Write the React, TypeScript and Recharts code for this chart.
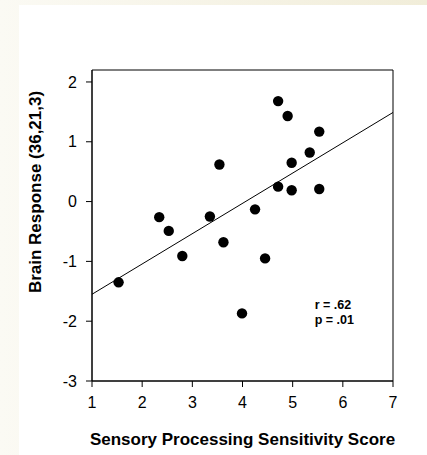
import React from 'react';
import {
  ScatterChart,
  Scatter,
  XAxis,
  YAxis,
  ReferenceLine,
  ReferenceArea,
  ReferenceDot,
} from 'recharts';

// Sensory Processing Sensitivity score (x) and brain response (y)
const spsScores = [1.53, 2.34, 2.53, 2.8, 3.35, 3.54, 3.62, 3.99, 4.25, 4.45, 4.71, 4.71, 4.9, 4.98, 4.98, 5.34, 5.53, 5.53];
const brainResponse = [-1.35, -0.26, -0.49, -0.91, -0.25, 0.62, -0.68, -1.87, -0.13, -0.95, 1.68, 0.25, 1.43, 0.65, 0.19, 0.82, 1.17, 0.21];

const xTicks = [1, 2, 3, 4, 5, 6, 7];
const yTicks = [-3, -2, -1, 0, 1, 2];
const xDomain = [1, 7];
const yDomain = [-3, 2.2];

// regression line end points
const fitLine = [
  { x: 1, y: -1.55 },
  { x: 7, y: 1.49 },
];

const statsText = ['r = .62', 'p = .01'];
const statsAnchor = { x: 5.44, y: -1.8 };

const xTitle = 'Sensory Processing Sensitivity Score';
const yTitle = 'Brain Response (36,21,3)';

const points = spsScores.map((x, i) => ({ x, y: brainResponse[i] }));

const FONT = '"Liberation Sans", Arial, Helvetica, sans-serif';

const Dot = (props: any) => <circle cx={props.cx} cy={props.cy} r={5.2} fill="#000" />;

export default function App() {
  return (
    <div
      style={{
        position: 'absolute',
        left: 0,
        top: 0,
        width: 427,
        height: 455,
        background: 'linear-gradient(to right, #fbfaf4, #f1edd9)',
        fontFamily: FONT,
      }}
    >
      <div style={{ position: 'absolute', left: 19, top: 5, width: 408, height: 450, background: '#fff' }} />
      <div style={{ position: 'absolute', left: 0, top: 0 }}>
        <ScatterChart width={427} height={455} margin={{ top: 70, right: 34, left: 0, bottom: 0 }} style={{ fontFamily: FONT }}>
          <XAxis
            type="number"
            dataKey="x"
            domain={xDomain}
            ticks={xTicks}
            allowDataOverflow
            height={74}
            tickSize={6}
            tickMargin={10}
            fontSize={16}
            tick={{ fill: '#000', fontSize: 16 }}
            stroke="#000"
            tickLine={{ stroke: '#000' }}
            axisLine={{ stroke: '#000' }}
            label={{
              content: (p: any) => {
                const vb = p.viewBox;
                return (
                  <text x={vb.x + vb.width / 2} y={vb.y + 64} textAnchor="middle" fontWeight="bold" fontSize={17} fill="#000">
                    {xTitle}
                  </text>
                );
              },
            }}
          />
          <YAxis
            type="number"
            dataKey="y"
            domain={yDomain}
            ticks={yTicks}
            allowDataOverflow
            width={92}
            tickSize={6}
            tickMargin={9}
            fontSize={16}
            tick={{ fill: '#000', fontSize: 16 }}
            stroke="#000"
            tickLine={{ stroke: '#000' }}
            axisLine={{ stroke: '#000' }}
            label={{
              content: () => (
                <text
                  x={0}
                  y={0}
                  transform="translate(41,192) rotate(-90)"
                  textAnchor="middle"
                  fontWeight="bold"
                  fontSize={17}
                  fill="#000"
                >
                  {yTitle}
                </text>
              ),
            }}
          />
          <ReferenceArea
            x1={xDomain[0]}
            x2={xDomain[1]}
            y1={yDomain[0]}
            y2={yDomain[1]}
            fill="none"
            fillOpacity={0}
            stroke="#000"
            strokeWidth={1}
          />
          <ReferenceLine segment={fitLine} stroke="#000" strokeWidth={1} />
          <Scatter data={points} fill="#000" shape={Dot} isAnimationActive={false} />
          <ReferenceDot
            x={statsAnchor.x}
            y={statsAnchor.y}
            r={0}
            fill="none"
            stroke="none"
            label={{
              content: (p: any) => {
                const vb = p.viewBox || {};
                return (
                  <text x={vb.x} y={vb.y} fontWeight="bold" fontSize={12.5} fill="#000">
                    <tspan x={vb.x}>{statsText[0]}</tspan>
                    <tspan x={vb.x} dy={15}>
                      {statsText[1]}
                    </tspan>
                  </text>
                );
              },
            }}
          />
        </ScatterChart>
      </div>
    </div>
  );
}
